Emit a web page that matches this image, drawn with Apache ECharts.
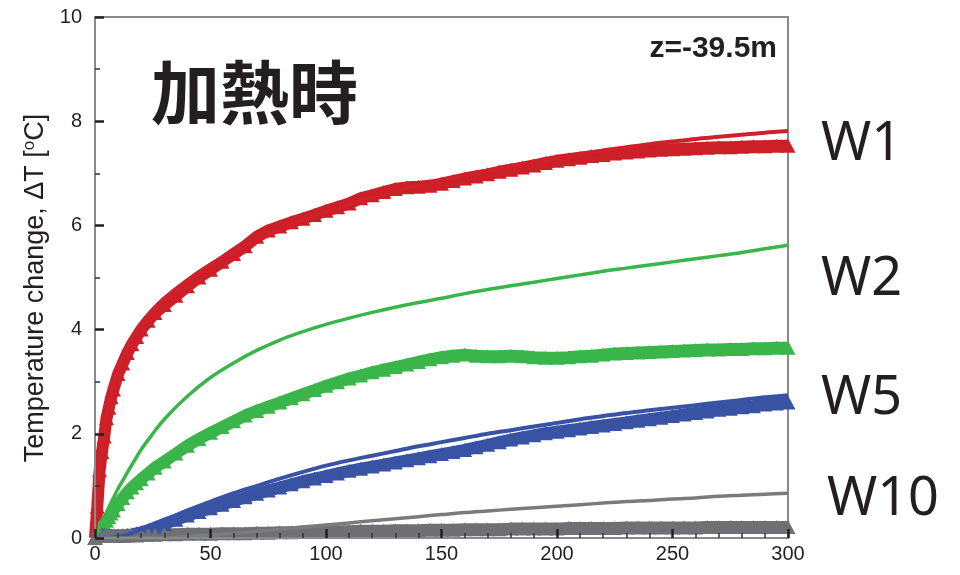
<!DOCTYPE html>
<html>
<head>
<meta charset="utf-8">
<script src="https://cdn.jsdelivr.net/npm/echarts@6/dist/echarts.min.js"></script>
<style>
html,body{margin:0;padding:0;background:#fff;}
#chart{width:960px;height:575px;}
</style>
</head>
<body>
<div id="chart"></div>
<script>
// ---- data ----
var xTicks = [0, 50, 100, 150, 200, 250, 300];
var yTicks = [0, 2, 4, 6, 8, 10];

var timeMeasured = [0,1,2,3,4,5,6,7,8,10,12,14,16,18,20,23,26,30,35,40,45,50,55,60,65,70,75,80,85,90,95,100,105,110,115,120,125,130,135,140,145,150,155,160,165,170,175,180,185,190,195,200,205,210,215,220,225,230,235,240,245,250,255,260,265,270,275,280,285,290,295,300];
var w1Measured = [0,0.6,1.3,1.65,1.95,2.3,2.5,2.7,2.85,3.15,3.35,3.55,3.72,3.86,4.0,4.17,4.32,4.47,4.65,4.83,5.0,5.15,5.3,5.45,5.6,5.78,5.9,5.98,6.06,6.13,6.2,6.28,6.35,6.42,6.52,6.58,6.64,6.7,6.73,6.74,6.76,6.8,6.85,6.9,6.94,6.98,7.03,7.07,7.11,7.15,7.2,7.24,7.27,7.3,7.33,7.35,7.38,7.4,7.42,7.44,7.45,7.46,7.47,7.48,7.49,7.5,7.5,7.51,7.52,7.52,7.53,7.53];
var w2Measured = [0,0.05,0.12,0.2,0.27,0.33,0.4,0.47,0.53,0.65,0.77,0.88,0.97,1.05,1.13,1.24,1.35,1.47,1.62,1.77,1.9,2.02,2.13,2.24,2.35,2.44,2.52,2.6,2.68,2.76,2.84,2.92,2.99,3.06,3.12,3.18,3.23,3.28,3.33,3.38,3.43,3.47,3.5,3.52,3.5,3.49,3.49,3.5,3.49,3.47,3.46,3.46,3.47,3.49,3.5,3.52,3.54,3.55,3.56,3.57,3.58,3.59,3.6,3.61,3.62,3.62,3.63,3.63,3.64,3.64,3.65,3.65];
var w5Measured = [0,0.05,0.07,0.07,0.06,0.05,0.05,0.05,0.05,0.05,0.05,0.06,0.07,0.09,0.11,0.15,0.2,0.27,0.35,0.43,0.5,0.57,0.64,0.71,0.78,0.85,0.91,0.97,1.03,1.09,1.14,1.19,1.24,1.29,1.33,1.37,1.41,1.45,1.49,1.53,1.57,1.61,1.65,1.69,1.74,1.79,1.84,1.89,1.93,1.97,2.01,2.04,2.07,2.1,2.13,2.16,2.19,2.22,2.25,2.28,2.31,2.34,2.37,2.4,2.43,2.46,2.48,2.51,2.53,2.56,2.58,2.6];
var w10Measured = [0,0.04,0.05,0.05,0.04,0.05,0.05,0.04,0.05,0.05,0.05,0.05,0.06,0.05,0.06,0.06,0.06,0.07,0.07,0.08,0.08,0.08,0.09,0.09,0.09,0.1,0.1,0.11,0.11,0.12,0.12,0.13,0.13,0.13,0.14,0.14,0.14,0.15,0.15,0.15,0.16,0.16,0.16,0.17,0.17,0.17,0.17,0.18,0.18,0.18,0.18,0.18,0.19,0.19,0.19,0.19,0.19,0.2,0.2,0.2,0.2,0.2,0.2,0.2,0.21,0.21,0.21,0.21,0.21,0.21,0.21,0.21];

var timeFit = [0,1,2,3,4,5,6,8,10,12,15,20,25,30,40,50,60,70,80,90,100,110,120,130,140,150,160,170,180,190,200,210,220,230,240,250,260,270,280,290,300];
var w1Fit = [0,0.8,1.35,1.75,2.1,2.4,2.6,2.95,3.25,3.48,3.75,4.1,4.38,4.6,4.95,5.25,5.5,5.72,5.92,6.1,6.26,6.4,6.53,6.65,6.76,6.86,6.96,7.05,7.14,7.22,7.3,7.37,7.44,7.5,7.56,7.61,7.66,7.7,7.74,7.78,7.81];
var w2Fit = [0,0.1,0.2,0.3,0.4,0.5,0.59,0.77,0.95,1.1,1.33,1.7,2.0,2.28,2.72,3.08,3.36,3.6,3.8,3.96,4.1,4.22,4.33,4.43,4.52,4.6,4.69,4.77,4.84,4.91,4.98,5.05,5.12,5.18,5.24,5.3,5.36,5.42,5.48,5.55,5.62];
var w5Fit = [0,0,0,0,0,0,0,0.01,0.02,0.04,0.08,0.16,0.25,0.34,0.53,0.7,0.86,1.0,1.14,1.27,1.39,1.49,1.58,1.67,1.76,1.84,1.92,2.0,2.07,2.14,2.21,2.28,2.34,2.4,2.45,2.5,2.55,2.6,2.65,2.7,2.74];
var w10Fit = [0,0,0,0,0,0,0,0,0,0,0,0,0,0,0.03,0.06,0.09,0.13,0.17,0.21,0.25,0.29,0.33,0.37,0.41,0.45,0.49,0.52,0.55,0.58,0.61,0.64,0.67,0.7,0.72,0.75,0.77,0.8,0.82,0.84,0.86];

var wellNames = ['W1', 'W2', 'W5', 'W10'];
var titleText = '加熱時';
var depthText = 'z=-39.5m';

// ---- styles ----
var colors = ['#cc1f27', '#3ab54a', '#3953a4', '#6f7073'];
var fitColors = ['#d0202a', '#3ab54a', '#3953a4', '#7a7b7e'];
var fitWidths = [4, 3.5, 4, 3.5];

function pairs(xs, ys) { return xs.map(function (x, i) { return [x, ys[i]]; }); }

var measured = [w1Measured, w2Measured, w5Measured, w10Measured];
var fits = [w1Fit, w2Fit, w5Fit, w10Fit];
var series = [];
measured.forEach(function (arr, i) {
  series.push({
    name: wellNames[i] + ' measured', type: 'line', data: pairs(timeMeasured, arr),
    symbol: 'triangle', symbolSize: [15, 14], showSymbol: true, clip: false,
    lineStyle: { color: colors[i], width: 12 }, itemStyle: { color: colors[i] },
    z: 2, silent: true
  });
});
fits.forEach(function (arr, i) {
  series.push({
    name: wellNames[i] + ' fit', type: 'line', data: pairs(timeFit, arr), smooth: 0.3,
    showSymbol: false, symbol: 'none', clip: false,
    lineStyle: { color: fitColors[i], width: fitWidths[i] }, z: 3, silent: true
  });
});

var labelFont = 'Liberation Sans, Arial, sans-serif';
var chart = echarts.init(document.getElementById('chart'), null, { renderer: 'canvas' });
chart.setOption({
  animation: false,
  backgroundColor: '#fff',
  grid: { left: 95, right: 172, top: 17, bottom: 37, show: true, borderColor: '#8a8a8a', borderWidth: 2, backgroundColor: 'transparent' },
  xAxis: {
    type: 'value', min: xTicks[0], max: xTicks[xTicks.length - 1], interval: xTicks[1] - xTicks[0], z: 5,
    axisLine: { show: true, lineStyle: { color: '#8a8a8a', width: 2 } },
    axisTick: { show: true, inside: true, length: 9, lineStyle: { color: '#231f20', width: 2.5 } },
    minorTick: { show: true, splitNumber: 5, length: 5, lineStyle: { color: '#333', width: 1.5 } },
    splitLine: { show: false },
    axisLabel: { fontSize: 20, color: '#231f20', fontFamily: labelFont, margin: 6 }
  },
  yAxis: {
    type: 'value', min: yTicks[0], max: yTicks[yTicks.length - 1], interval: yTicks[1] - yTicks[0], z: 5,
    axisLine: { show: true, lineStyle: { color: '#8a8a8a', width: 2 } },
    axisTick: { show: true, inside: true, length: 9, lineStyle: { color: '#231f20', width: 2.5 } },
    minorTick: { show: true, splitNumber: 2, length: 5, lineStyle: { color: '#333', width: 1.5 } },
    splitLine: { show: false },
    axisLabel: { fontSize: 20, color: '#231f20', fontFamily: labelFont, margin: 13 },
    name: '{n|Temperature change, ΔT [}{s|o}{n|C]}',
    nameLocation: 'middle', nameGap: 45, nameRotate: 90,
    nameTextStyle: { fontSize: 27, color: '#231f20', fontFamily: labelFont, padding: [0, 21, 0, 0],
      rich: {
        n: { fontSize: 27, fontFamily: labelFont, color: '#231f20' },
        s: { fontSize: 17, verticalAlign: 'top', padding: [0, 0, 12, 0], fontFamily: labelFont, color: '#231f20' }
      } }
  },
  series: series,
  graphic: [
    { type: 'text', left: 151, top: 58, style: { text: titleText, font: 'bold 69px "Noto Sans CJK JP"', fill: '#231f20' } },
    { type: 'text', right: 183, top: 34, style: { text: depthText, font: 'bold 30px "Liberation Sans", Arial', fill: '#231f20' } },
    { type: 'text', left: 821, top: 118, style: { text: wellNames[0], font: '54px "Noto Sans"', fill: '#231f20' } },
    { type: 'text', left: 821, top: 253, style: { text: wellNames[1], font: '54px "Noto Sans"', fill: '#231f20' } },
    { type: 'text', left: 821, top: 372, style: { text: wellNames[2], font: '54px "Noto Sans"', fill: '#231f20' } },
    { type: 'text', left: 827, top: 473, style: { text: wellNames[3], font: '54px "Noto Sans"', fill: '#231f20' } }
  ]
});
</script>
</body>
</html>
